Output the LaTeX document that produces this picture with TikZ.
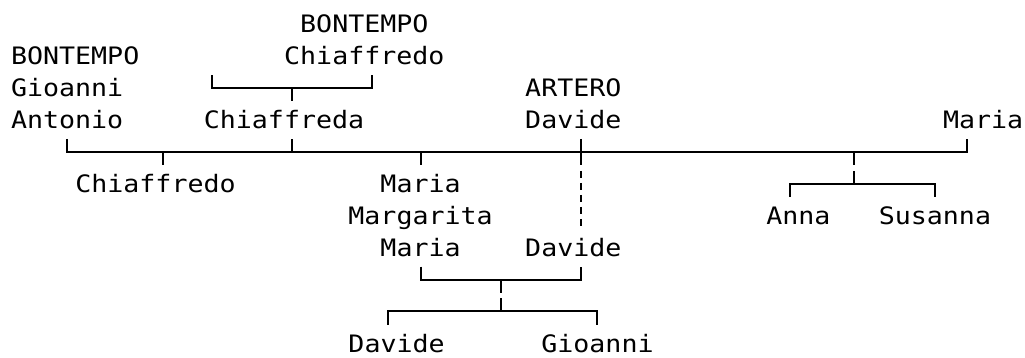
\documentclass[tikz,border=0pt]{standalone}
\usepackage{fontspec}
\newfontfamily\treefont[FakeStretch=1.11]{DejaVu Sans Mono}

\begin{document}
\begin{tikzpicture}[x=1pt,y=-1pt,
  person/.style={font=\treefont\fontsize{24}{31.9}\selectfont,inner sep=0pt,anchor=base west,align=left},
  centred/.style={person,anchor=base,align=center},
  link/.style={line width=2pt},
  dashlink/.style={link,dash pattern=on 7pt off 5pt}]
  \useasboundingbox (0,0) rectangle (1025,358);
  % grid: one unit = one character cell, rows counted downwards
  \begin{scope}[shift={(10.8,33)},x=16.07pt,y=-31.9pt]
  % people (multi-line nodes sit on their last line)
  \node[centred] (chiaffredoA) at (22,1) {BONTEMPO\\Chiaffredo};
  \node[person] (gioanniA) at (0,3) {BONTEMPO\\Gioanni\\Antonio};
  \node[person] (arteroD) at (32,3) {ARTERO\\Davide};
  \node[person] (chiaffreda) at (12,3) {Chiaffreda};
  \node[person] (mariaR) at (58,3) {Maria};
  \node[person] (chiaffredoB) at (4,5) {Chiaffredo};
  \node[centred] (mariaM) at (25.5,7) {Maria\\Margarita\\Maria};
  \node[person] (anna) at (47,6) {Anna};
  \node[person] (susanna) at (54,6) {Susanna};
  \node[person] (davideB) at (32,7) {Davide};
  \node[person] (davideC) at (21,10) {Davide};
  \node[person] (gioanniB) at (33,10) {Gioanni};
  % parents of Chiaffreda
  \coordinate (p1L) at (12.5,1.73);
  \coordinate (p1R) at (22.5,1.73);
  \coordinate (p1C) at (17.5,1.73);
  \draw[link] (p1L) ++(0,-0.41) -- (p1L) -- (p1R) -- ++(0,-0.41);
  \draw[link] (p1C) -- ++(0,0.41);
  % main line
  \coordinate (m1L) at (3.5,3.73);
  \coordinate (m1R) at (59.5,3.73);
  \draw[link] (m1L) ++(0,-0.41) -- (m1L) -- (m1R) -- ++(0,-0.41);
  \foreach \c/\dy in {9.5/0.41,17.5/-0.41,25.5/0.41,52.5/0.41}
    \draw[link] (\c,3.73) -- ++(0,\dy);
  \coordinate (m1X) at (35.5,3.73);
  \draw[link] (m1X) ++(0,-0.41) -- ++(0,0.82);
  \draw[dashlink] (35.5,4.32) -- (35.5,6.14);
  % children of Maria (right)
  \coordinate (m2L) at (48.5,4.73);
  \coordinate (m2R) at (57.5,4.73);
  \coordinate (m2C) at (52.5,4.73);
  \draw[link] (m2L) ++(0,0.41) -- (m2L) -- (m2R) -- ++(0,0.41);
  \draw[link] (m2C) -- ++(0,-0.41);
  % Maria Margarita Maria and Davide
  \coordinate (m3L) at (25.5,7.73);
  \coordinate (m3R) at (35.5,7.73);
  \coordinate (m3C) at (30.5,7.73);
  \draw[link] (m3L) ++(0,-0.41) -- (m3L) -- (m3R) -- ++(0,-0.41);
  \draw[link] (m3C) -- ++(0,0.41);
  % their children
  \coordinate (k3L) at (23.5,8.73);
  \coordinate (k3R) at (36.5,8.73);
  \coordinate (k3C) at (30.5,8.73);
  \draw[link] (k3L) ++(0,0.41) -- (k3L) -- (k3R) -- ++(0,0.41);
  \draw[link] (k3C) -- ++(0,-0.41);
  \end{scope}
\end{tikzpicture}
\end{document}
